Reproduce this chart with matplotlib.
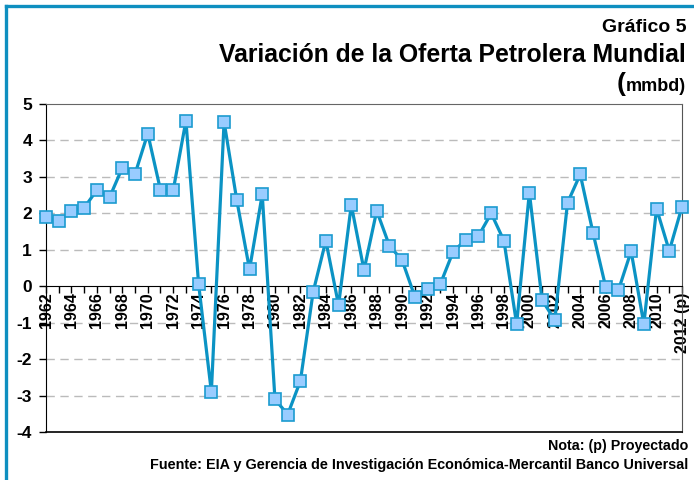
import matplotlib
matplotlib.use("Agg")
import matplotlib.pyplot as plt
from matplotlib.lines import Line2D

plt.rcParams['font.family'] = ['Liberation Sans', 'DejaVu Sans']

years = list(range(1962, 2013))
oferta = [1.90, 1.79, 2.06, 2.15, 2.64, 2.44, 3.25, 3.08, 4.19, 2.64,
          2.63, 4.54, 0.05, -2.90, 4.51, 2.36, 0.46, 2.52, -3.10, -3.52,
          -2.60, -0.16, 1.25, -0.52, 2.23, 0.44, 2.07, 1.11, 0.71, -0.29,
          -0.08, 0.06, 0.94, 1.28, 1.38, 2.00, 1.25, -1.04, 2.57, -0.38,
          -0.93, 2.29, 3.07, 1.47, -0.02, -0.11, 0.96, -1.04, 2.13, 0.97,
          2.18]
label_years = list(range(1962, 2011, 2))
labels = [str(y) for y in label_years] + ["2012 (p)"]

fig = plt.figure(figsize=(6.94, 4.8), dpi=100)
ax = fig.add_axes([46/694, 1 - 432/480, 636/694, 328/480])

ax.plot(years, oferta, color='#0B93C4', lw=2.3, marker='s', markersize=9,
        markerfacecolor='#99CCFF', markeredgecolor='#1B9BCF', markeredgewidth=1.2,
        zorder=5, clip_on=False)

ax.set_xlim(1962, 2012)
ax.set_ylim(-4, 5)
ax.set_yticks(range(-4, 6))
ax.set_yticklabels([str(v) for v in range(-4, 6)], fontsize=12.5, fontweight='bold')
for v in [-3, -2, -1, 1, 2, 3, 4]:
    ax.axhline(v, color='#BBBBBB', lw=1, ls=(0, (6, 4)), zorder=1)

ax.spines['bottom'].set_position(('data', 0))
ax.spines['bottom'].set_color('black')
ax.spines['left'].set_color('black')
ax.spines['top'].set_color('#666666')
ax.spines['right'].set_color('#555555')
ax.axhline(-4, color='black', lw=1.2, clip_on=False, zorder=3)

ax.set_xticks(years)
ax.set_xticklabels(['' for y in years])
ax.tick_params(axis='x', length=5, direction='out', width=1, pad=2)
ax.tick_params(axis='y', length=5, direction='out', width=1, pad=5)
for y, lab in zip(label_years + [2012], labels):
    ax.text(y, -0.17, lab, rotation=90, ha='center', va='top', fontsize=11.5,
            fontweight='bold', zorder=2)

# blue frame
fig.add_artist(Line2D([6/694, 6/694], [0, 1 - 6/480], color='#0E8FC0', lw=2.4))
fig.add_artist(Line2D([6/694, 1], [1 - 6/480, 1 - 6/480], color='#0E8FC0', lw=2.4))

fig.text(686/694, 1 - 32/480, "Gráfico 5", ha='right', va='baseline', fontsize=14, fontweight='bold')
fig.text(686/694, 1 - 62/480, "Variación de la Oferta Petrolera Mundial", ha='right', va='baseline',
         fontsize=17.8, fontweight='bold')
fig.text(686/694, 1 - 91/480, "mmbd)", ha='right', va='baseline', fontsize=13, fontweight='bold')
fig.text(626/694, 1 - 91/480, "(", ha='right', va='baseline', fontsize=19, fontweight='bold')
fig.text(688/694, 1 - 446/480, "Nota: (p) Proyectado", ha='right', va='center', fontsize=10.3, fontweight='bold')
fig.text(688/694, 1 - 465/480, "Fuente: EIA y Gerencia de Investigación Económica-Mercantil Banco Universal",
         ha='right', va='center', fontsize=10.4, fontweight='bold')

fig.savefig("out.png", dpi=100)
